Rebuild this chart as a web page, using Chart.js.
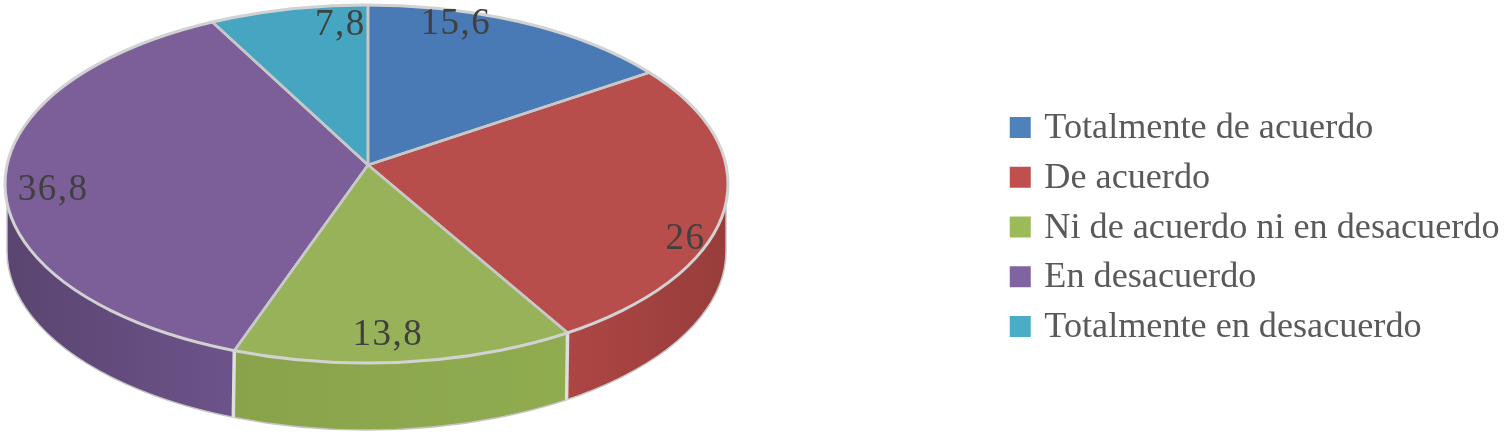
<!DOCTYPE html>
<html>
<head>
<meta charset="utf-8">
<style>html,body{margin:0;padding:0;background:#fff}canvas{display:block}</style>
<script src="https://cdn.jsdelivr.net/npm/chart.js@4"></script>
</head>
<body>
<canvas id="c" width="1507" height="440"></canvas>
<script>
const categories = ["Totalmente de acuerdo","De acuerdo","Ni de acuerdo ni en desacuerdo","En desacuerdo","Totalmente en desacuerdo"];
const values = [15.6, 26, 13.8, 36.8, 7.8];
const valueTexts = ["15,6","26","13,8","36,8","7,8"];
const legendColors = ["#4f81bd","#c0504d","#9bbb59","#8064a2","#4bacc6"];
const topColors = ["#4a7ab5","#b74e4b","#97b258","#7c5f99","#46a5c1"];
const wallFrom = ["#3f6797","#ad4644","#89a34b","#5a4570","#3c8aa1"];
const wallTo = ["#3f6797","#983d3b","#90ac4f","#6c538a","#3c8aa1"];
const labelNudges = [[-67,2],[-40,34],[-18,-27],[48,12],[52,16]];

// 3D view of the pie: apex of the slices, the rim ellipse and the wall depth
const view = {apexX:368, apexY:165, spanX:500, tilt:0.49, rimX:366.5, rimY:184, rimRx:361.5, rimRy:179, depth:67};
const legendBoxShift = 7, legendBoxLift = 1, legendTextShift = 2.5;

const pie3d = {
  id:'pie3d',
  beforeDraw(chart){
    const legend = chart.legend;
    if(legend && !legend.__wrapped){
      legend.__wrapped = true;
      const nativeDraw = legend.draw;
      legend.draw = function(){
        const c = chart.ctx, nativeRect = c.rect, nativeText = c.fillText;
        c.rect = function(x,y,w,h){ nativeRect.call(c,x+legendBoxShift,y-legendBoxLift,w,h); };
        c.fillText = function(t,x,y,m){ m===undefined ? nativeText.call(c,t,x+legendTextShift,y) : nativeText.call(c,t,x+legendTextShift,y,m); };
        nativeDraw.apply(legend,arguments);
        delete c.rect; delete c.fillText;
      };
    }
  },
  beforeDatasetsDraw(chart){
    const ctx = chart.ctx, arcs = chart.getDatasetMeta(0).data, v = view;
    const ex = arcs[0].x, ey = arcs[0].y, R = arcs[0].outerRadius;
    const sx = v.spanX/R, sy = sx*v.tilt;
    const project = d => ctx.setTransform(sx,0,0,sy, v.apexX-sx*ex, v.apexY+d-sy*ey);
    const toUserX = X => ex+(X-v.apexX)/sx;
    const rimHit = a => {
      const dx=sx*Math.cos(a), dy=sy*Math.sin(a), ox=v.apexX-v.rimX, oy=v.apexY-v.rimY;
      const A=dx*dx/(v.rimRx*v.rimRx)+dy*dy/(v.rimRy*v.rimRy);
      const B=2*(ox*dx/(v.rimRx*v.rimRx)+oy*dy/(v.rimRy*v.rimRy));
      const C=ox*ox/(v.rimRx*v.rimRx)+oy*oy/(v.rimRy*v.rimRy)-1;
      const t=(-B+Math.sqrt(B*B-4*A*C))/(2*A);
      return {x:v.apexX+t*dx, y:v.apexY+t*dy};
    };
    const drawArc = (el, over) => {
      const saved = el.options;
      el.options = Object.assign(Object.create(saved), over);
      el.draw(ctx);
      el.options = saved;
    };
    ctx.save();

    // wall: slices repeated downward, each clipped to its own rim ellipse
    const wallFills = arcs.map((el,i) => {
      let a0=rimHit(el.startAngle).x, a1=rimHit(el.endAngle).x;
      let lo=Math.min(a0,a1), hi=Math.max(a0,a1);
      if(el.startAngle<0 && el.endAngle>0) hi=v.rimX+v.rimRx;
      if(el.startAngle<Math.PI && el.endAngle>Math.PI) lo=v.rimX-v.rimRx;
      const g=ctx.createLinearGradient(toUserX(lo),0,toUserX(hi),0);
      g.addColorStop(0,wallFrom[i]); g.addColorStop(1,wallTo[i]);
      return g;
    });
    for(let d=v.depth; d>=1; d--){
      ctx.save();
      ctx.beginPath();
      ctx.ellipse(v.rimX,v.rimY+d,v.rimRx-2,v.rimRy,0,0,Math.PI*2);
      ctx.clip();
      project(d);
      arcs.forEach((el,i)=>drawArc(el,{backgroundColor:wallFills[i],borderWidth:0}));
      ctx.restore();
    }
    ctx.setTransform(1,0,0,1,0,0);

    // wall outline
    ctx.beginPath();
    ctx.moveTo(v.rimX+v.rimRx-2,v.rimY);
    ctx.lineTo(v.rimX+v.rimRx-2,v.rimY+v.depth);
    ctx.ellipse(v.rimX,v.rimY+v.depth,v.rimRx-2,v.rimRy,0,0,Math.PI);
    ctx.lineTo(v.rimX-v.rimRx+2,v.rimY);
    ctx.strokeStyle='#c4c4c4'; ctx.lineWidth=1.5; ctx.stroke();

    // seams on the wall at slice boundaries facing the viewer
    arcs.forEach(el=>{
      const p=rimHit(el.startAngle);
      if(p.y>v.rimY){
        ctx.beginPath(); ctx.moveTo(p.x,p.y); ctx.lineTo(p.x-1,p.y+v.depth);
        ctx.strokeStyle='#dedede'; ctx.lineWidth=3.5; ctx.stroke();
      }
    });

    // top face, border strokes drawn with an even device-space width
    ctx.save();
    ctx.beginPath();
    ctx.ellipse(v.rimX,v.rimY,v.rimRx,v.rimRy,0,0,Math.PI*2);
    ctx.clip();
    project(0);
    const nativeStroke = ctx.stroke;
    ctx.stroke = function(){ ctx.save(); ctx.setTransform(1,0,0,1,0,0); nativeStroke.apply(ctx,arguments); ctx.restore(); };
    arcs.forEach((el,i)=>drawArc(el,{backgroundColor:topColors[i],borderWidth:0}));
    arcs.forEach((el,i)=>drawArc(el,{backgroundColor:'rgba(0,0,0,0)',borderWidth:2.6,borderColor:'#c8c8c8',borderJoinStyle:'round'}));
    delete ctx.stroke;
    ctx.restore();

    // rim
    ctx.setTransform(1,0,0,1,0,0);
    ctx.beginPath();
    ctx.ellipse(v.rimX,v.rimY,v.rimRx,v.rimRy,0,0,Math.PI*2);
    ctx.strokeStyle='#d2d2d2'; ctx.lineWidth=3; ctx.stroke();

    // value labels, placed relative to the rim point of each slice
    ctx.font='37px "Liberation Serif"';
    ctx.letterSpacing='1.5px';
    ctx.fillStyle='#404040'; ctx.textAlign='center'; ctx.textBaseline='middle';
    arcs.forEach((el,i)=>{
      const p=rimHit((el.startAngle+el.endAngle)/2);
      ctx.fillText(valueTexts[i],p.x+labelNudges[i][0],p.y+labelNudges[i][1]);
    });
    ctx.restore();
    return false;
  }
};

new Chart(document.getElementById('c'),{
  type:'pie',
  data:{labels:categories,datasets:[{data:values,backgroundColor:legendColors,borderWidth:0}]},
  plugins:[pie3d],
  options:{
    responsive:false,animation:false,
    layout:{padding:{right:0,top:16,bottom:0,left:0}},
    plugins:{
      tooltip:{enabled:false},
      legend:{
        position:'right',
        labels:{
          boxWidth:21,boxHeight:21,padding:13.5,color:'#595959',
          font:{family:'"Liberation Serif"',size:36.2},
          generateLabels(chart){
            return Chart.overrides.pie.plugins.legend.labels.generateLabels(chart).map(l=>Object.assign(l,{lineWidth:0}));
          }
        }
      }
    }
  }
});
</script>
</body>
</html>
